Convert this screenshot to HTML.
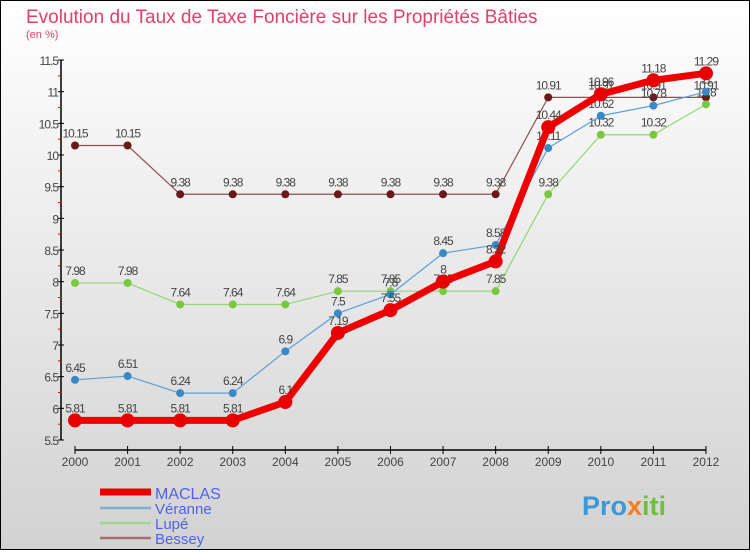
<!DOCTYPE html>
<html><head><meta charset="utf-8"><style>
body{margin:0;width:750px;height:550px;overflow:hidden;font-family:"Liberation Sans",sans-serif}
svg text{font-family:"Liberation Sans",sans-serif}
</style></head><body>
<svg id="c" width="750" height="550" xmlns="http://www.w3.org/2000/svg">
<defs><linearGradient id="bg" x1="0" y1="0" x2="0" y2="1"><stop offset="0" stop-color="#ffffff"/><stop offset="1" stop-color="#d2d2d2"/></linearGradient></defs>
<rect x="0.5" y="0.5" width="749" height="549" fill="url(#bg)" stroke="#000"/>
<text x="26" y="23" font-size="19" fill="#e0406a">Evolution du Taux de Taxe Foncière sur les Propriétés Bâties</text>
<text x="26" y="38" font-size="11" fill="#e0406a">(en %)</text>
<g id="axes"></g><g id="series"></g>
<g>
<line x1="100" y1="492" x2="151" y2="492" stroke="#e80000" stroke-width="7"/>
<text x="155" y="499" font-size="16" fill="#5060ee">MACLAS</text>
<line x1="100" y1="508" x2="151" y2="508" stroke="#80b0d0" stroke-width="2.5"/>
<text x="155" y="514" font-size="15" fill="#5060ee">Véranne</text>
<line x1="100" y1="523" x2="151" y2="523" stroke="#a0d890" stroke-width="2.5"/>
<text x="155" y="529" font-size="15" fill="#5060ee">Lupé</text>
<line x1="100" y1="538" x2="151" y2="538" stroke="#a07070" stroke-width="2.5"/>
<text x="155" y="544" font-size="15" fill="#5060ee">Bessey</text>
</g>
<text x="582" y="515" font-size="27" font-weight="bold" fill="#3a9ad8">Pro<tspan fill="#f08020">x</tspan><tspan fill="#70c040">iti</tspan></text>
</svg>
<script>
const years=[2000,2001,2002,2003,2004,2005,2006,2007,2008,2009,2010,2011,2012];
const yTicks=[5.5,6,6.5,7,7.5,8,8.5,9,9.5,10,10.5,11,11.5];
const maclas=[5.81,5.81,5.81,5.81,6.1,7.19,7.55,8,8.32,10.44,10.96,11.18,11.29];
const veranne=[6.45,6.51,6.24,6.24,6.9,7.5,7.8,8.45,8.58,10.11,10.62,10.78,11];
const lupe=[7.98,7.98,7.64,7.64,7.64,7.85,7.85,7.85,7.85,9.38,10.32,10.32,10.8];
const bessey=[10.15,10.15,9.38,9.38,9.38,9.38,9.38,9.38,9.38,10.91,10.91,10.91,10.91];
const NS="http://www.w3.org/2000/svg";
const X=i=>75+i*52.58, Y=v=>440-(v-5.5)*63.33;
function mk(t,a,p){const e=document.createElementNS(NS,t);for(const k in a)e.setAttribute(k,a[k]);p.appendChild(e);return e;}
const ax=document.getElementById('axes');
const yl=mk('line',{x1:61,y1:60,x2:61,y2:440,stroke:'#000','stroke-width':1.5},ax);


const xl=mk('line',{x1:75,y1:450,x2:706,y2:450,stroke:'#000','stroke-width':1.5},ax);


yTicks.forEach((v,i)=>{
 mk('line',{x1:58,y1:Y(v),x2:64,y2:Y(v),stroke:'#000'},ax);
 if(i<yTicks.length-1) mk('line',{x1:58,y1:Y(v+0.25),x2:61,y2:Y(v+0.25),stroke:'#e00'},ax);
 const t=mk('text',{x:58,y:Y(v)+5,'font-size':12,'text-anchor':'end',fill:'#444','letter-spacing':'-1'},ax);
 t.textContent=String(v);
 
 
});
years.forEach((y,i)=>{
 mk('line',{x1:X(i),y1:446,x2:X(i),y2:454,stroke:'#000'},ax);
 const t=mk('text',{x:X(i),y:466,'font-size':12,'text-anchor':'middle',fill:'#444'},ax);
 t.textContent=y;
 
 
});
const sg=document.getElementById('series');
function series(data,name,color,w,r,dot){
 const g=mk('g',{},sg);
 
 
 mk('polyline',{points:data.map((v,i)=>X(i)+','+Y(v)).join(' '),fill:'none',stroke:color,'stroke-width':w,'stroke-linejoin':'round'},g);
 data.forEach((v,i)=>{
  const c=mk('circle',{cx:X(i),cy:Y(v),r:r,fill:dot},g);
  
  
  const t=mk('text',{x:X(i),y:Y(v)-8,'font-size':12,'text-anchor':'middle',fill:'#444','letter-spacing':'-1'},g);
  t.textContent=String(v);
  
  
 });
}
series(bessey,'bessey','#905050',1.2,4,'#6a1818');
series(lupe,'lupe','#90d870',1.2,4,'#7ac840');
series(veranne,'veranne','#5aa0d8',1.2,4,'#3a88c8');
series(maclas,'maclas','#ee0000',7,7,'#e80000');
</script>
</body></html>
